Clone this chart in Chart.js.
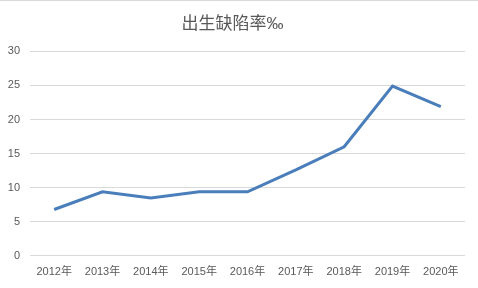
<!DOCTYPE html>
<html><head><meta charset="utf-8">
<script src="https://cdn.jsdelivr.net/npm/chart.js@4/dist/chart.umd.min.js"></script>
<style>
html,body{margin:0;padding:0;background:#fff;}
#wrap{width:478px;height:288px;position:relative;box-sizing:border-box;border-top:1px solid #d9d9d9;}
</style></head>
<body><div id="wrap"><canvas id="c" width="478" height="287"></canvas></div>
<script>
const categories = ['2012年','2013年','2014年','2015年','2016年','2017年','2018年','2019年','2020年'];
const rates = [6.8, 9.4, 8.5, 9.4, 9.4, 12.6, 16.0, 24.9, 21.9];
const yTicks = [0, 5, 10, 15, 20, 25, 30];
const titleText = '出生缺陷率‰';
const fontFamily = '"Liberation Sans", "Noto Sans CJK SC", sans-serif';

new Chart(document.getElementById('c'), {
  type: 'line',
  data: {
    labels: categories,
    datasets: [{
      data: rates,
      borderColor: '#4a7ebb',
      borderWidth: 3,
      pointRadius: 0,
      tension: 0,
      fill: false
    }]
  },
  options: {
    responsive: false,
    animation: false,
    layout: { padding: { left: 0, right: 13, top: 11, bottom: 7 } },
    plugins: {
      legend: { display: false },
      tooltip: { enabled: false },
      title: {
        display: true,
        text: titleText,
        color: '#595959',
        font: { family: fontFamily, size: 17, weight: 'normal' },
        padding: { top: 2, bottom: 17 }
      }
    },
    scales: {
      x: {
        offset: true,
        grid: { display: false, offset: true },
        border: { display: false },
        ticks: { color: '#595959', font: { family: fontFamily, size: 11 }, maxRotation: 0, padding: 2 }
      },
      y: {
        min: 0, max: 30,
        afterBuildTicks: (axis) => { axis.ticks = yTicks.map(v => ({ value: v })); },
        afterFit: (axis) => { axis.width = 30; },
        grid: { color: '#d9d9d9', lineWidth: 1, drawTicks: false },
        border: { display: false },
        ticks: { color: '#595959', font: { family: fontFamily, size: 11 }, padding: 10 }
      }
    }
  }
});
</script></body></html>
